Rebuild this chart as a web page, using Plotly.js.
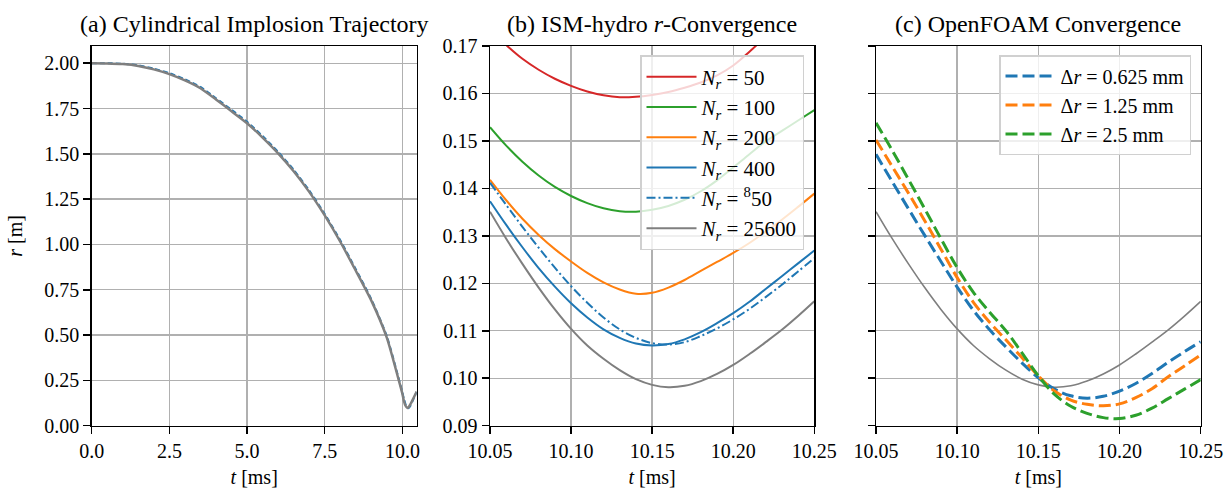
<!DOCTYPE html>
<html>
<head>
<meta charset="utf-8">
<script src="https://cdn.plot.ly/plotly-3.0.1.min.js"></script>
<style>html,body{margin:0;padding:0;background:#fff;}#chart{width:1231px;height:494px;}</style>
</head>
<body>
<div id="chart"></div>
<script>
// ---------- Panel (a): full trajectory ----------
const tA = [0, 0.5, 1.0, 1.5, 2.0, 2.5, 3.0, 3.5, 4.0, 4.5, 5.0, 5.5, 6.0, 6.5, 7.0, 7.5, 8.0, 8.5, 9.0, 9.5, 9.9, 10.0, 10.05, 10.10, 10.16, 10.20, 10.25, 10.35, 10.46];
const rA_fine = [2.000, 1.999, 1.995, 1.985, 1.966, 1.940, 1.905, 1.862, 1.800, 1.735, 1.669, 1.590, 1.503, 1.404, 1.290, 1.160, 1.015, 0.855, 0.690, 0.485, 0.240, 0.175, 0.1351, 0.1102, 0.0981, 0.1028, 0.1162, 0.150, 0.188];
const rA_foam = [2.000, 2.000, 1.997, 1.988, 1.970, 1.945, 1.911, 1.869, 1.807, 1.743, 1.677, 1.598, 1.511, 1.412, 1.298, 1.168, 1.023, 0.863, 0.698, 0.493, 0.248, 0.183, 0.1472, 0.1190, 0.0985, 0.0972, 0.1077, 0.145, 0.186];

// ---------- Panel (b): ISM-hydro r-convergence ----------
const tB = [10.05, 10.06, 10.07, 10.08, 10.09, 10.10, 10.11, 10.12, 10.13, 10.14, 10.15, 10.16, 10.17, 10.18, 10.19, 10.20, 10.21, 10.22, 10.23, 10.24, 10.25];
const r_N50    = [0.1735, 0.1702, 0.1673, 0.1650, 0.1631, 0.1616, 0.1604, 0.1596, 0.1592, 0.1593, 0.1597, 0.1603, 0.1612, 0.1623, 0.1638, 0.1659, 0.1688, 0.1720, 0.1755, 0.1790, 0.1825];
const r_N100   = [0.1529, 0.1490, 0.1456, 0.1427, 0.1403, 0.1384, 0.1369, 0.1358, 0.1352, 0.1351, 0.1355, 0.1363, 0.1376, 0.1394, 0.1417, 0.1444, 0.1472, 0.1499, 0.1521, 0.1543, 0.1565];
const r_N200   = [0.1418, 0.1375, 0.1336, 0.1302, 0.1272, 0.1246, 0.1222, 0.1202, 0.1187, 0.1178, 0.1180, 0.1191, 0.1207, 0.1226, 0.1245, 0.1264, 0.1285, 0.1309, 0.1334, 0.1361, 0.1389];
const r_N400   = [0.1373, 0.1323, 0.1276, 0.1232, 0.1193, 0.1158, 0.1128, 0.1103, 0.1085, 0.1073, 0.1069, 0.1072, 0.1082, 0.1097, 0.1116, 0.1137, 0.1161, 0.1188, 0.1215, 0.1242, 0.1269];
const r_N850   = [0.1412, 0.1365, 0.1319, 0.1275, 0.1233, 0.1194, 0.1159, 0.1128, 0.1103, 0.1085, 0.1074, 0.1071, 0.1076, 0.1089, 0.1105, 0.1124, 0.1146, 0.1171, 0.1197, 0.1225, 0.1253];
const r_N25600 = [0.1351, 0.1294, 0.1241, 0.1191, 0.1145, 0.1104, 0.1069, 0.1041, 0.1017, 0.0998, 0.0986, 0.0981, 0.0984, 0.0994, 0.1009, 0.1028, 0.1051, 0.1076, 0.1102, 0.1131, 0.1162];

// ---------- Panel (c): OpenFOAM convergence ----------
const r_dr0625 = [0.1472, 0.1414, 0.1357, 0.1301, 0.1246, 0.1192, 0.1143, 0.1102, 0.1066, 0.1032, 0.1001, 0.0977, 0.0963, 0.0958, 0.0962, 0.0973, 0.0989, 0.1010, 0.1034, 0.1056, 0.1077];
const r_dr125  = [0.1502, 0.1446, 0.1390, 0.1332, 0.1272, 0.1212, 0.1160, 0.1118, 0.1081, 0.1043, 0.1005, 0.0973, 0.0954, 0.0945, 0.0942, 0.0946, 0.0959, 0.0978, 0.1003, 0.1026, 0.1049];
const r_dr25   = [0.1538, 0.1480, 0.1419, 0.1357, 0.1294, 0.1233, 0.1181, 0.1139, 0.1100, 0.1053, 0.1005, 0.0966, 0.0941, 0.0926, 0.0917, 0.0915, 0.0922, 0.0937, 0.0957, 0.0977, 0.0997];

const namesB = ['<i>N</i><sub><i>r</i></sub> = 50', '<i>N</i><sub><i>r</i></sub> = 100', '<i>N</i><sub><i>r</i></sub> = 200', '<i>N</i><sub><i>r</i></sub> = 400', '<i>N</i><sub><i>r</i></sub> = <sup>8</sup>50', '<i>N</i><sub><i>r</i></sub> = 25600'];
const namesC = ['Δ<i>r</i> = 0.625 mm', 'Δ<i>r</i> = 1.25 mm', 'Δ<i>r</i> = 2.5 mm'];
const titles = ['(a) Cylindrical Implosion Trajectory', '(b) ISM-hydro <i>r</i>-Convergence', '(c) OpenFOAM Convergence'];
const xLabel = '<i>t</i> [ms]';
const yLabel = '<i>r</i> [m]';

const C = {blue:'#1f77b4', orange:'#ff7f0e', green:'#2ca02c', red:'#d62728', grey:'#7f7f7f'};
const FONT = 'Liberation Serif';
const SP = {shape:'spline', smoothing:1};

function ln(o){ return Object.assign({}, SP, o); }

const traces = [
  {x:tA, y:rA_foam, xaxis:'x', yaxis:'y', mode:'lines', line:ln({color:C.blue, width:2, dash:'5px,3px', smoothing:0.6}), showlegend:false},
  {x:tA, y:rA_fine, xaxis:'x', yaxis:'y', mode:'lines', line:ln({color:C.grey, width:2.5, smoothing:0.6}), showlegend:false},

  {x:tB, y:r_N50, xaxis:'x2', yaxis:'y2', name:namesB[0], mode:'lines', line:ln({color:C.red, width:2}), legend:'legend'},
  {x:tB, y:r_N100, xaxis:'x2', yaxis:'y2', name:namesB[1], mode:'lines', line:ln({color:C.green, width:2}), legend:'legend'},
  {x:tB, y:r_N200, xaxis:'x2', yaxis:'y2', name:namesB[2], mode:'lines', line:ln({color:C.orange, width:2}), legend:'legend'},
  {x:tB, y:r_N400, xaxis:'x2', yaxis:'y2', name:namesB[3], mode:'lines', line:ln({color:C.blue, width:2}), legend:'legend'},
  {x:tB, y:r_N850, xaxis:'x2', yaxis:'y2', name:namesB[4], mode:'lines', line:ln({color:C.blue, width:2, dash:'9px,3px,2px,3px'}), legend:'legend'},
  {x:tB, y:r_N25600, xaxis:'x2', yaxis:'y2', name:namesB[5], mode:'lines', line:ln({color:C.grey, width:2}), legend:'legend'},

  {x:tB, y:r_N25600, xaxis:'x3', yaxis:'y3', mode:'lines', line:ln({color:C.grey, width:1.6}), showlegend:false},
  {x:tB, y:r_dr0625, xaxis:'x3', yaxis:'y3', name:namesC[0], mode:'lines', line:ln({color:C.blue, width:3, dash:'12px,5px'}), legend:'legend2'},
  {x:tB, y:r_dr125, xaxis:'x3', yaxis:'y3', name:namesC[1], mode:'lines', line:ln({color:C.orange, width:3, dash:'12px,5px'}), legend:'legend2'},
  {x:tB, y:r_dr25, xaxis:'x3', yaxis:'y3', name:namesC[2], mode:'lines', line:ln({color:C.green, width:3, dash:'12px,5px'}), legend:'legend2'}
];

const W = 1231, H = 494;
const yDom = [1 - 425.7/H, 1 - 46/H];
const xDoms = [[91.7/W, 416.7/W], [490/W, 814.3/W], [876/W, 1200.7/W]];

function axisBase(extra){
  return Object.assign({
    showline:true, linecolor:'#000', linewidth:1.5, mirror:true,
    ticks:'outside', ticklen:7, tickwidth:1.5, tickcolor:'#000',
    showgrid:true, gridcolor:'#b0b0b0', gridwidth:1.4,
    zeroline:false, tickfont:{family:FONT, size:20, color:'#000'},
    fixedrange:true
  }, extra);
}
const xTitle = {text:xLabel, font:{family:FONT, size:20, color:'#000'}, standoff:9};

const layout = {
  width:W, height:H, margin:{l:0, r:0, t:0, b:0},
  paper_bgcolor:'#fff', plot_bgcolor:'#fff',
  font:{family:FONT, size:20, color:'#000'},
  xaxis: axisBase({domain:xDoms[0], anchor:'y', range:[0, 10.46], tickmode:'linear', tick0:0, dtick:2.5, tickformat:'.1f', title:xTitle}),
  yaxis: axisBase({domain:yDom, anchor:'x', range:[0, 2.095], tickmode:'linear', tick0:0, dtick:0.25, tickformat:'.2f',
    title:{text:yLabel, font:{family:FONT, size:20, color:'#000'}, standoff:16}}),
  xaxis2: axisBase({domain:xDoms[1], anchor:'y2', range:[10.05, 10.25], tickmode:'linear', tick0:10.05, dtick:0.05, tickformat:'.2f', title:xTitle}),
  yaxis2: axisBase({domain:yDom, anchor:'x2', range:[0.09, 0.17], tickmode:'linear', tick0:0.09, dtick:0.01, tickformat:'.2f'}),
  xaxis3: axisBase({domain:xDoms[2], anchor:'y3', range:[10.05, 10.25], tickmode:'linear', tick0:10.05, dtick:0.05, tickformat:'.2f', title:xTitle}),
  yaxis3: axisBase({domain:yDom, anchor:'x3', range:[0.09, 0.17], tickmode:'linear', tick0:0.09, dtick:0.01, showticklabels:false}),
  legend: {x:804/W, y:1-55/H, xanchor:'right', yanchor:'top', bgcolor:'rgba(255,255,255,0.8)', bordercolor:'#d0d0d0', borderwidth:1.5,
    font:{family:FONT, size:21, color:'#000'}, itemwidth:50},
  legend2: {x:1191/W, y:1-55/H, xanchor:'right', yanchor:'top', bgcolor:'rgba(255,255,255,0.8)', bordercolor:'#d0d0d0', borderwidth:1.5,
    font:{family:FONT, size:20, color:'#000'}, itemwidth:50},
  annotations: titles.map((t, i) => ({
    text:t, xref:'paper', yref:'paper', x:(xDoms[i][0]+xDoms[i][1])/2, y:1-24/H,
    xanchor:'center', yanchor:'middle', showarrow:false, font:{family:FONT, size:24, color:'#000'}
  }))
};

Plotly.newPlot('chart', traces, layout, {displayModeBar:false, staticPlot:true});
</script>
</body>
</html>
